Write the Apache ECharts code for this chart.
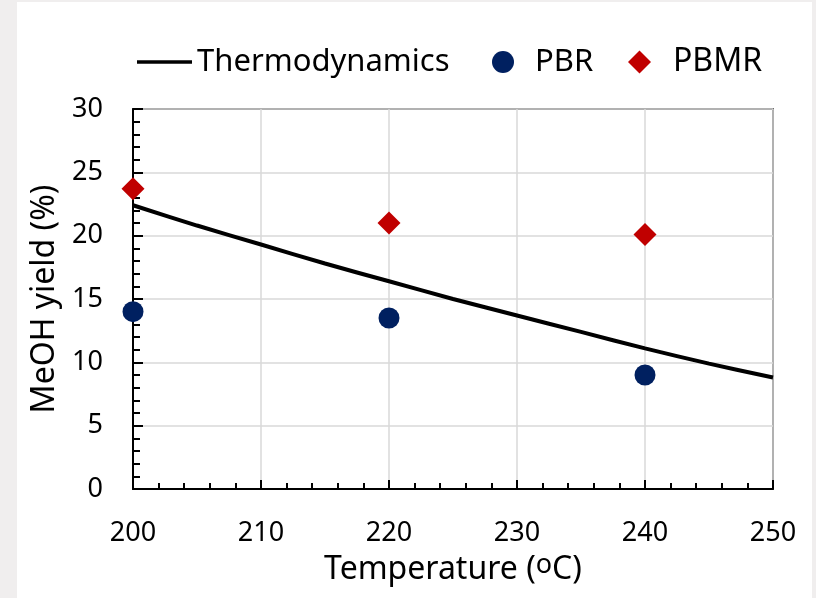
<!DOCTYPE html>
<html>
<head>
<meta charset="utf-8">
<script src="https://cdn.jsdelivr.net/npm/echarts@6/dist/echarts.min.js"></script>
<style>
html,body{margin:0;padding:0;background:#f0eeee;}
#chart{width:816px;height:598px;}
</style>
</head>
<body>
<div id="chart"></div>
<script>
// Data
const thermoT = [200, 205, 210, 215, 220, 225, 230, 235, 240, 245, 250];
const thermoY = [22.4, 20.8, 19.3, 17.8, 16.4, 15.0, 13.7, 12.4, 11.1, 9.9, 8.8];
const expT = [200, 220, 240];
const pbrY = [14.0, 13.5, 9.0];
const pbmrY = [23.7, 21.0, 20.1];
const xTicks = [200, 210, 220, 230, 240, 250];
const yTicks = [0, 5, 10, 15, 20, 25, 30];

const FONT = '"Noto Sans", "Open Sans", sans-serif';
const chart = echarts.init(document.getElementById('chart'), null, {renderer: 'canvas'});

const legendText = {fontFamily: FONT, fontSize: 31, color: '#000', lineHeight: 34};

chart.setOption({
  backgroundColor: '#f0eeee',
  animation: false,
  graphic: [{
    type: 'rect', z: -10, silent: true,
    shape: {x: 17, y: 2, width: 795, height: 600},
    style: {fill: '#ffffff'}
  }],
  legend: [
    {data: [{name: 'Thermodynamics', icon: 'rect'}], left: 137, top: 45, padding: 0,
     itemWidth: 55, itemHeight: 3.5, itemStyle: {color: '#000'},
     textStyle: legendText, selectedMode: false},
    {data: ['PBR'], left: 492, top: 45, padding: 0, itemWidth: 22, itemHeight: 22,
     textStyle: Object.assign({}, legendText, {padding: [0, 0, 0, 16]}), selectedMode: false},
    {data: ['PBMR'], left: 628, top: 45, padding: 0, itemWidth: 23, itemHeight: 23,
     textStyle: Object.assign({}, legendText, {fontSize: 32, padding: [0, 0, 0, 17]}), selectedMode: false}
  ],
  grid: {left: 133, right: 43, top: 109, bottom: 109, show: true,
         borderColor: '#000', borderWidth: 1.5, backgroundColor: 'transparent'},
  xAxis: {
    type: 'value', min: xTicks[0], max: xTicks[xTicks.length - 1], interval: 10,
    name: 'Temperature ({sup|o}C)', nameLocation: 'middle', nameGap: 61,
    nameTextStyle: {fontFamily: FONT, fontSize: 32, color: '#000',
      rich: {sup: {fontFamily: FONT, fontSize: 27, color: '#000', verticalAlign: 'top', padding: [0, 0, 8, 0]}}},
    axisLine: {lineStyle: {color: '#000', width: 2}},
    axisTick: {inside: true, length: 9, lineStyle: {color: '#000', width: 2}},
    minorTick: {show: true, splitNumber: 5, length: 6, lineStyle: {color: '#000', width: 2}},
    axisLabel: {fontFamily: FONT, fontSize: 27, color: '#000', margin: 31},
    splitLine: {show: true, lineStyle: {color: '#d9d9d9', width: 1.5}}
  },
  yAxis: {
    type: 'value', min: yTicks[0], max: yTicks[yTicks.length - 1], interval: 5,
    name: 'MeOH yield (%)', nameLocation: 'middle', nameGap: 65,
    nameTextStyle: {fontFamily: FONT, fontSize: 32, color: '#000'},
    axisLine: {show: true, lineStyle: {color: '#000', width: 2}},
    axisTick: {show: true, inside: true, length: 10, lineStyle: {color: '#000', width: 2}},
    minorTick: {show: true, splitNumber: 5, length: 7, lineStyle: {color: '#000', width: 2}},
    axisLabel: {fontFamily: FONT, fontSize: 27, color: '#000', margin: 30},
    splitLine: {show: true, lineStyle: {color: '#d9d9d9', width: 1.5}}
  },
  series: [
    {name: 'Thermodynamics', type: 'line', symbol: 'none', smooth: 0.3,
     lineStyle: {color: '#000', width: 4}, itemStyle: {color: '#000'},
     data: thermoT.map((t, i) => [t, thermoY[i]]), z: 3},
    {name: 'PBR', type: 'scatter', symbol: 'circle', symbolSize: 21,
     itemStyle: {color: '#002060', opacity: 1},
     data: expT.map((t, i) => [t, pbrY[i]]), z: 4},
    {name: 'PBMR', type: 'scatter', symbol: 'diamond', symbolSize: 23,
     itemStyle: {color: '#c00000', opacity: 1},
     data: expT.map((t, i) => [t, pbmrY[i]]), z: 4}
  ]
});
</script>
</body>
</html>
